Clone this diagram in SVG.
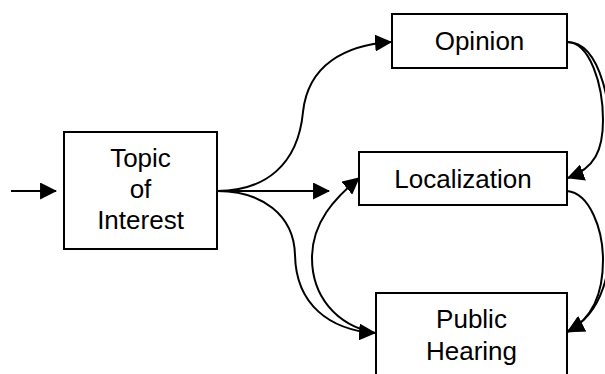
<svg xmlns="http://www.w3.org/2000/svg" width="605" height="374" viewBox="0 0 605 374">
<style>
.box{fill:#fff;stroke:#000;stroke-width:2}
.lbl{font-family:"Liberation Sans",Arial,sans-serif;font-size:26px;fill:#000;text-anchor:middle}
.edge{fill:none;stroke:#000;stroke-width:2;marker-end:url(#ah)}
.plain{fill:none;stroke:#000;stroke-width:2}
</style>
<defs>
<marker id="ah" markerUnits="userSpaceOnUse" markerWidth="17" markerHeight="17" viewBox="0 0 16 16" refX="15" refY="8" orient="auto">
<path d="M0,0 L16,8 L0,16 z" fill="#000"/>
</marker>
</defs>
<rect width="605" height="374" fill="#fff"/>
<g id="connectors">
<path class="edge" d="M11,191 L56,191"/>
<path class="edge" d="M217,191 L329,191"/>
<path class="edge" d="M217,191 C265,191 298,165 303,112 C308,65 345,45 391,42"/>
<path class="edge" d="M217,191 C262,191 294,215 295,255 C296,305 330,330 375,333"/>
<path class="edge" d="M375,333 C335,325 312,295 312,258 C312,222 335,198 359,178"/>
<path class="edge" d="M567,42 C590,42 603,85 603,120 C603,150 595,168 568,178"/>
<path class="edge" d="M567,42 C600,42 614,100 614,190 C614,280 600,315 568,331"/>
<path class="edge" d="M567,191 C590,193 603,230 603,260 C603,295 592,318 568,332"/>
</g>
<g id="topic">
<rect class="box" x="64" y="132" width="153" height="117"/>
<text class="lbl" x="140.5" y="167">Topic</text>
<text class="lbl" x="140.5" y="198">of</text>
<text class="lbl" x="140.5" y="229">Interest</text>
</g>
<g id="opinion">
<rect class="box" x="392" y="14" width="175" height="54"/>
<text class="lbl" x="479.5" y="50">Opinion</text>
</g>
<g id="localization">
<rect class="box" x="359" y="152" width="208" height="53"/>
<text class="lbl" x="463" y="188">Localization</text>
</g>
<g id="public-hearing">
<rect class="box" x="376" y="293" width="191" height="100"/>
<text class="lbl" x="471.5" y="328">Public</text>
<text class="lbl" x="471.5" y="360">Hearing</text>
</g>
</svg>
